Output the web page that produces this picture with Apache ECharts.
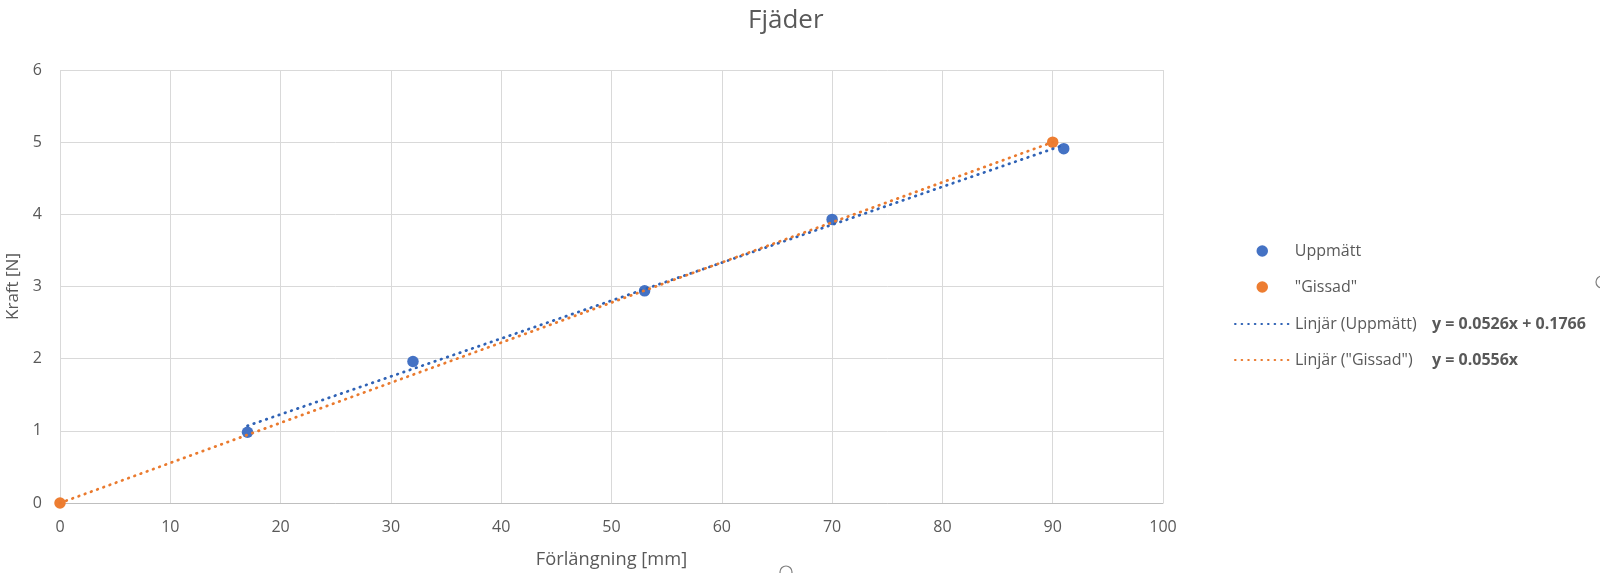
<!DOCTYPE html>
<html>
<head>
<meta charset="utf-8">
<script src="https://cdn.jsdelivr.net/npm/echarts@6/dist/echarts.min.js"></script>
<style>
  html, body { margin: 0; padding: 0; background: #ffffff; }
  #chart { width: 1600px; height: 573px; }
</style>
</head>
<body>
<div id="chart"></div>
<script>
// ---- Data ----
const chartTitle = 'Fjäder';
const xAxisName = 'Förlängning [mm]';
const yAxisName = 'Kraft [N]';

const seriesNames = ['Uppmätt', '"Gissad"'];
const trendNames = ['Linjär (Uppmätt)', 'Linjär ("Gissad")'];
const trendEquations = ['y = 0.0526x + 0.1766', 'y = 0.0556x'];

// Measured points
const uppmattX = [17, 32, 53, 70, 91];
const uppmattY = [0.98, 1.96, 2.94, 3.93, 4.91];

// Guessed points
const gissadX = [0, 90];
const gissadY = [0, 5.0];

// Trend line end points (as drawn)
const uppTrendX = [17, 91];
const uppTrendY = [1.07, 4.96];
const gisTrendX = [0, 90];
const gisTrendY = [0, 5.0];

// Axis ticks
const xMin = 0, xMax = 100, xStep = 10;
const yMin = 0, yMax = 6, yStep = 1;

const zip = (xs, ys) => xs.map((x, i) => [x, ys[i]]);

const textColor = '#595959';
const font = 'Open Sans';
const blue = '#4472C4';
const orange = '#ED7D31';
const blueTrend = '#2F62B5';
const orangeTrend = '#EA7A2E';

const chart = echarts.init(document.getElementById('chart'), null, { renderer: 'canvas' });

const option = {
  animation: false,
  backgroundColor: '#ffffff',
  textStyle: { fontFamily: font, color: textColor },
  title: {
    text: chartTitle,
    left: 748,
    top: 8,
    padding: 0,
    textStyle: { fontFamily: font, fontSize: 26, fontWeight: 'normal', color: textColor }
  },
  grid: { left: 60, right: 437, top: 70, bottom: 70, containLabel: false, outerBoundsMode: 'none' },
  xAxis: {
    type: 'value',
    min: xMin, max: xMax, interval: xStep,
    name: xAxisName,
    nameLocation: 'middle',
    nameGap: 48,
    nameTextStyle: { fontFamily: font, fontSize: 18.3, color: textColor },
    axisLine: { show: true, lineStyle: { color: '#BFBFBF', width: 1 } },
    axisTick: { show: false },
    axisLabel: { fontFamily: font, fontSize: 16, color: textColor, margin: 16 },
    splitLine: { show: true, lineStyle: { color: '#D9D9D9', width: 1 } }
  },
  yAxis: {
    type: 'value',
    min: yMin, max: yMax, interval: yStep,
    name: yAxisName,
    nameLocation: 'middle',
    nameGap: 29,
    nameTextStyle: { fontFamily: font, fontSize: 17, color: textColor },
    axisLine: { show: false },
    axisTick: { show: false },
    axisLabel: { fontFamily: font, fontSize: 16, color: textColor, margin: 18 },
    splitLine: { show: true, lineStyle: { color: '#D9D9D9', width: 1 } }
  },
  legend: [
    {
      orient: 'vertical',
      align: 'left',
      left: 1256.5,
      top: 241,
      padding: 0,
      itemWidth: 55,
      itemHeight: 11.5,
      itemGap: 16,
      data: [
        { name: seriesNames[0], icon: 'circle' },
        { name: seriesNames[1], icon: 'circle' }
      ],
      textStyle: { fontFamily: font, fontSize: 16, color: textColor, lineHeight: 20 }
    },
    {
      orient: 'vertical',
      align: 'left',
      left: 1234,
      top: 314,
      padding: 0,
      itemWidth: 55,
      itemHeight: 11,
      itemGap: 16,
      itemStyle: { opacity: 0 },
      data: [trendNames[0], trendNames[1]],
      formatter: function (name) {
        const i = trendNames.indexOf(name);
        return '{a|' + name + '}{b|' + trendEquations[i] + '}';
      },
      textStyle: {
        fontFamily: font, fontSize: 16, color: textColor, lineHeight: 20,
        rich: {
          a: { fontFamily: font, fontSize: 16, color: textColor, width: 137, lineHeight: 20 },
          b: { fontFamily: font, fontSize: 16, fontWeight: 'bold', color: textColor, lineHeight: 20 }
        }
      }
    }
  ],
  series: [
    {
      name: seriesNames[0],
      type: 'scatter',
      data: zip(uppmattX, uppmattY),
      symbol: 'circle',
      symbolSize: 11.5,
      itemStyle: { color: blue, opacity: 1 },
      z: 2
    },
    {
      name: seriesNames[1],
      type: 'scatter',
      data: zip(gissadX, gissadY),
      symbol: 'circle',
      symbolSize: 11.5,
      itemStyle: { color: orange, opacity: 1 },
      z: 3
    },
    {
      name: trendNames[0],
      type: 'line',
      data: zip(uppTrendX, uppTrendY),
      symbol: 'none',
      itemStyle: { color: blueTrend },
      lineStyle: { color: blueTrend, width: 2.75, type: [0.6, 6], cap: 'round' },
      z: 4
    },
    {
      name: trendNames[1],
      type: 'line',
      data: zip(gisTrendX, gisTrendY),
      symbol: 'none',
      itemStyle: { color: orangeTrend },
      lineStyle: { color: orangeTrend, width: 2.75, type: [0.6, 6], cap: 'round' },
      z: 5
    }
  ],
  graphic: [
    { type: 'circle', shape: { cx: 1602, cy: 282, r: 6 }, style: { fill: 'none', stroke: '#7f7f7f', lineWidth: 1.2 }, silent: true },
    { type: 'circle', shape: { cx: 786, cy: 572, r: 6 }, style: { fill: 'none', stroke: '#7f7f7f', lineWidth: 1.2 }, silent: true }
  ]
};

chart.setOption(option);
</script>
</body>
</html>
